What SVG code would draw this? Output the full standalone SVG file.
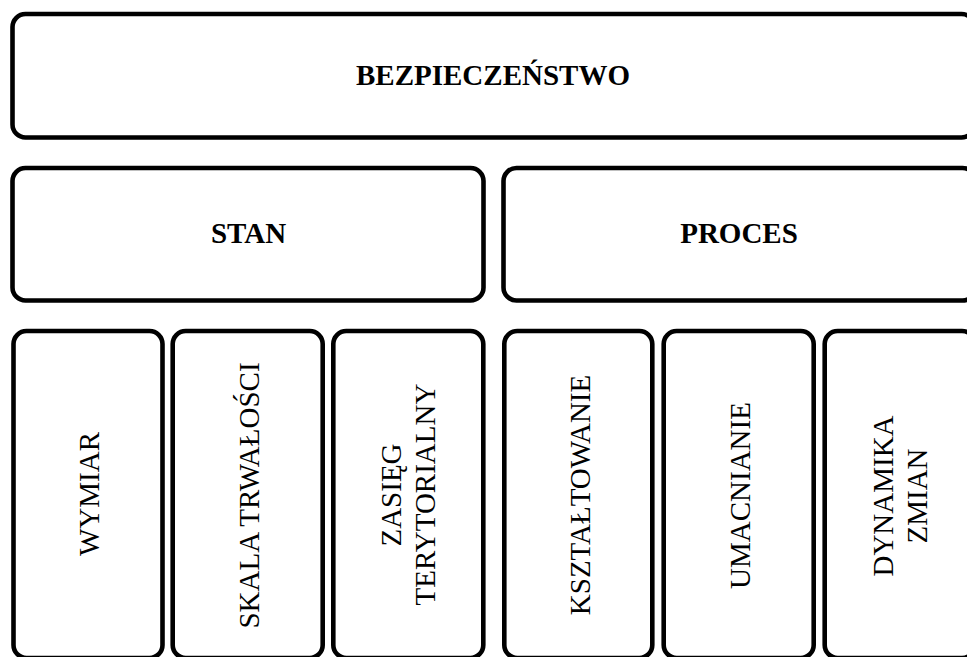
<svg xmlns="http://www.w3.org/2000/svg" width="967" height="657" viewBox="0 0 967 657">
<style>
.box{fill:#fff;stroke:#000;stroke-width:4.6}
.t{font-family:"Liberation Serif","Times New Roman",serif;font-size:29px;fill:#000;text-anchor:middle}
.b{font-weight:bold}
</style>
<rect width="967" height="657" fill="#fff"/>
<g id="connectors"/>
<g id="bezpieczenstwo">
<rect class="box" x="12.5" y="14" width="962" height="123.5" rx="13"/>
<text class="t b" x="493" y="85">BEZPIECZEŃSTWO</text>
</g>
<g id="stan">
<rect class="box" x="12.5" y="168" width="471" height="132.5" rx="13"/>
<text class="t b" x="248.5" y="243">STAN</text>
</g>
<g id="proces">
<rect class="box" x="503.5" y="168" width="472" height="132.5" rx="13"/>
<text class="t b" x="739" y="243">PROCES</text>
</g>
<g id="wymiar">
<rect class="box" x="13.5" y="331" width="149" height="327" rx="13"/>
<text class="t" transform="translate(98.5,494) rotate(-90)">WYMIAR</text>
</g>
<g id="skala">
<rect class="box" x="172.7" y="331" width="150" height="327" rx="13"/>
<text class="t" transform="translate(259,495.5) rotate(-90)">SKALA TRWAŁOŚCI</text>
</g>
<g id="zasieg">
<rect class="box" x="333.3" y="331" width="150" height="327" rx="13"/>
<text class="t" transform="translate(401,495) rotate(-90)">ZASIĘG</text>
<text class="t" transform="translate(434.5,494.5) rotate(-90)">TERYTORIALNY</text>
</g>
<g id="ksztaltowanie">
<rect class="box" x="504.3" y="331" width="148" height="327" rx="13"/>
<text class="t" transform="translate(589.5,495) rotate(-90)">KSZTAŁTOWANIE</text>
</g>
<g id="umacnianie">
<rect class="box" x="663.7" y="331" width="150" height="327" rx="13"/>
<text class="t" transform="translate(750,495.5) rotate(-90)">UMACNIANIE</text>
</g>
<g id="dynamika">
<rect class="box" x="824.7" y="331" width="150.3" height="327" rx="13"/>
<text class="t" transform="translate(893,496) rotate(-90)">DYNAMIKA</text>
<text class="t" transform="translate(926.5,496) rotate(-90)">ZMIAN</text>
</g>
</svg>
